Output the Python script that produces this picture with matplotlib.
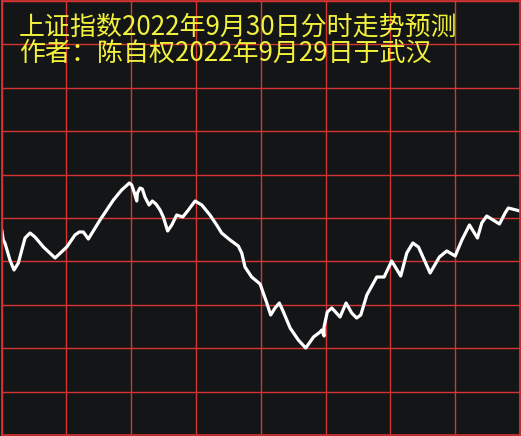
#!/usr/bin/env python3
"""Intraday forecast line for the Shanghai index, dark terminal style."""

import matplotlib
matplotlib.use("Agg")
import numpy as np
import matplotlib.pyplot as plt

plt.rcParams["font.family"] = ["Noto Sans CJK SC", "DejaVu Sans"]

TITLE_1 = "上证指数2022年9月30日分时走势预测"
TITLE_2 = "作者：陈自权2022年9月29日于武汉"

# minutes into the trading session (0..240)
minutes = [
    0.1, 0.8, 1.6, 3.9, 5.8, 7.8, 9.4, 10.9, 13.2, 15.5,
    19.4, 24.8, 30.2, 34.0, 36.0, 37.9, 40.2, 45.6, 51.8, 55.6,
    59.2, 60.3, 61.5, 62.6, 62.9, 64.1, 65.2, 66.4, 68.3, 69.8,
    71.5, 73.4, 74.9, 76.9, 78.8, 81.1, 83.9, 86.5, 89.6, 92.7,
    96.5, 99.6, 101.9, 105.8, 109.6, 111.2, 112.7, 115.8, 119.7, 122.8,
    124.6, 126.6, 128.6, 130.5, 133.6, 137.4, 140.8, 142.8, 144.4, 147.5,
    148.2, 149.3, 149.3, 150.8, 152.9, 156.7, 159.5, 162.1, 164.4, 166.3,
    169.1, 173.7, 177.1, 180.6, 184.8, 187.6, 190.4, 193.0, 198.4, 202.7,
    206.1, 210.0, 213.1, 216.6, 220.3, 222.3, 224.6, 230.5, 233.1, 234.6,
    240.0,
]

# predicted index level
level = [
    3020.6, 3019.6, 3019.3, 3017.6, 3016.6, 3017.3, 3018.6, 3019.8, 3020.3, 3019.9,
    3018.9, 3017.8, 3018.9, 3020.1, 3020.4, 3020.4, 3019.7, 3021.6, 3023.6, 3024.6,
    3025.3, 3025.1, 3024.3, 3023.5, 3024.3, 3024.8, 3024.7, 3023.9, 3023.1, 3023.5,
    3023.2, 3022.6, 3021.9, 3020.5, 3021.1, 3022.1, 3021.9, 3022.6, 3023.5, 3023.1,
    3022.1, 3021.1, 3020.3, 3019.6, 3019.0, 3018.3, 3016.9, 3015.9, 3015.2, 3013.3,
    3012.1, 3012.8, 3013.3, 3012.4, 3010.8, 3009.6, 3008.8, 3009.4, 3009.9, 3010.4,
    3010.6, 3010.0, 3010.9, 3012.4, 3012.8, 3011.9, 3013.3, 3012.3, 3011.8, 3012.1,
    3014.1, 3015.9, 3015.9, 3017.5, 3016.0, 3018.3, 3019.3, 3018.9, 3016.3, 3017.9,
    3018.5, 3018.0, 3019.6, 3021.1, 3019.8, 3021.3, 3022.0, 3021.2, 3022.3, 3022.8,
    3022.5,
]

BG = "#141517"
GRID = "#d83434"
TEXT = "#f2f23c"

fig = plt.figure(figsize=(5.21, 4.36), dpi=100, facecolor=BG)
ax = fig.add_axes([1.5 / 521, 1 / 436, 518.5 / 521, 434 / 436], facecolor=BG)

ax.plot(minutes, level, color="white", linewidth=2.3,
        solid_joinstyle="round", solid_capstyle="round")

ax.set_xlim(0, 240)
ax.set_ylim(3000.1, 3043.5)
ax.set_xticks(np.linspace(0, 240, 9))
ax.set_yticks(np.linspace(3000.1, 3043.5, 11))
ax.grid(True, color=GRID, linewidth=1.0)
ax.tick_params(length=0, labelbottom=False, labelleft=False)
for sp in ax.spines.values():
    sp.set_color(GRID)
    sp.set_linewidth(1.2)

fig.text(19 / 521, 1 - 35 / 436, TITLE_1, color=TEXT, fontsize=18.7,
         ha="left", va="baseline")
fig.text(19 / 521, 1 - 61 / 436, TITLE_2, color=TEXT, fontsize=18.7,
         ha="left", va="baseline")

fig.savefig("out.png", dpi=100, facecolor=BG)
